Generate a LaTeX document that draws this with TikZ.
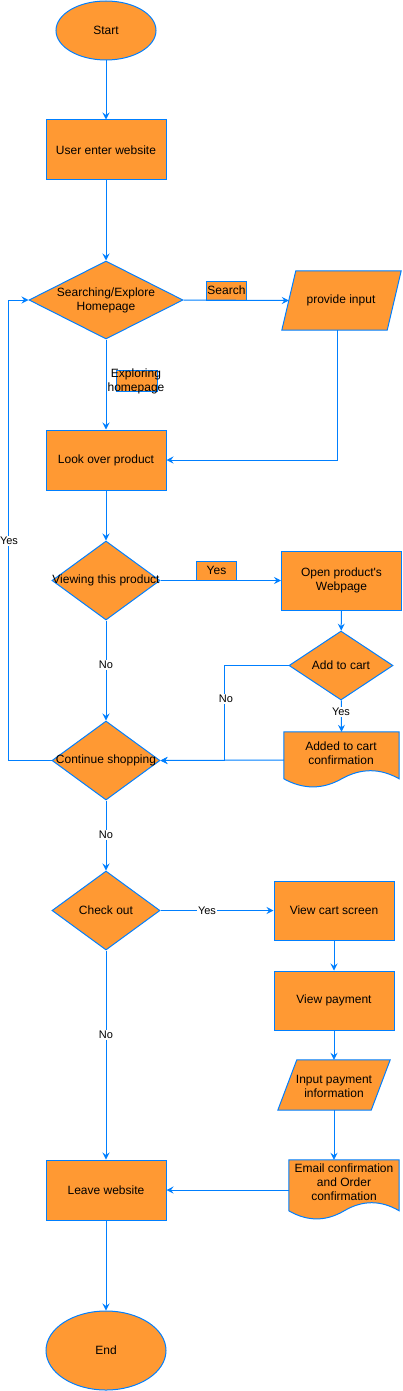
\documentclass[tikz,border=0pt]{standalone}
\usepackage{fontspec}
\setmainfont{Liberation Sans}
\usetikzlibrary{shapes.geometric,arrows.meta,backgrounds,calc}
\definecolor{fo}{HTML}{FF9933}
\definecolor{lb}{HTML}{007FFF}
\newcommand\docshape[3]{%
  \draw[shp] (#1.north west) -- (#1.north east) -- ([yshift={-(#3)+9}]#1.north east)
    .. controls ([xshift={-(#2)/6}, yshift={-(#3)+19.8}]#1.north east) and ([xshift={-(#2)/3},yshift={-(#3)+19.8}]#1.north east)
    .. ([xshift={-(#2)/2},yshift={-(#3)+9}]#1.north east)
    .. controls ([xshift={-(#2)*2/3},yshift={-(#3)-1.8}]#1.north east) and ([xshift={-(#2)*5/6},yshift={-(#3)-1.8}]#1.north east)
    .. ([yshift={-(#3)+9}]#1.north west) -- cycle;}
\begin{document}
\begin{tikzpicture}[x=1pt,y=-1pt,
  shp/.style={draw=lb,fill=fo,line width=1pt},
  box/.style={shp,minimum width=120pt,minimum height=60pt,inner sep=0pt,font=\fontsize{12}{14}\selectfont,align=center},
  dec/.style={diamond,shp,inner sep=0pt},
  term/.style={ellipse,shp,inner sep=0pt,font=\fontsize{12}{14}\selectfont},
  ghost/.style={inner sep=0pt,draw=none},
  txt/.style={inner sep=0pt,font=\fontsize{12}{14}\selectfont,align=center},
  tag/.style={shp,minimum width=40pt,minimum height=19pt,inner sep=0pt,font=\fontsize{12}{14}\selectfont},
  arr/.style={draw=lb,line width=1pt,-{Stealth[length=7pt,width=7pt,inset=2.5pt]}},
  elab/.style={fill=white,inner sep=1pt,font=\fontsize{11}{13}\selectfont}]
\useasboundingbox (0,0) rectangle (402,1391);
% nodes
\node[term,minimum width=100pt,minimum height=59pt] (start) at (106,30.5) {Start};
\node[box] (enter) at (106,150) {User enter website};
\node[dec,minimum width=154pt,minimum height=78pt,label={[txt]center:{Searching/Explore\\Homepage}}] (search) at (106,300) {};
\node[tag] (searchtag) at (226.5,290.5) {Search};
\node[ghost,minimum width=119pt,minimum height=59pt] (input) at (341.5,300.5) {};
\node[box,minimum height=60pt] (look) at (106,460) {Look over product};
\node[dec,minimum width=108pt,minimum height=79pt,label={[txt]center:{Viewing this product}}] (view) at (106,580.5) {};
\node[tag] (yestag) at (216.5,570.5) {Yes};
\node[box,minimum height=59pt] (open) at (341.5,580.5) {Open product\textquotesingle s\\Webpage};
\node[dec,minimum width=104pt,minimum height=69pt,label={[txt]center:{Add to cart}}] (cart) at (341,665.5) {};
\node[ghost,minimum width=115pt,minimum height=56pt] (added) at (341.5,760) {};
\node[dec,minimum width=108pt,minimum height=79pt,label={[txt]center:{Continue shopping}}] (cont) at (106,760.5) {};
\node[dec,minimum width=108pt,minimum height=79pt,label={[txt]center:{Check out}}] (check) at (106,910.5) {};
\node[box,minimum height=59pt] (vcart) at (334,910.5) {View cart screen};
\node[box,minimum height=59pt] (vpay) at (334,1000.5) {View payment};
\node[ghost,minimum width=112pt,minimum height=50pt] (inpay) at (334,1085) {};
\node[ghost,minimum width=110pt,minimum height=60pt] (email) at (344,1190) {};
\node[box] (leave) at (106,1190) {Leave website};
\node[term,minimum width=120pt,minimum height=79pt] (end) at (106,1350.5) {End};
\node[tag,minimum width=41pt,minimum height=21pt] (expbox) at (136.5,381) {};
% background shapes
\begin{scope}[on background layer]
\draw[shp] (input.south west) -- ([xshift=14pt]input.north west) -- (input.north east) -- ([xshift=-14pt]input.south east) -- cycle;
\draw[shp] (inpay.south west) -- ([xshift=19pt]inpay.north west) -- (inpay.north east) -- ([xshift=-19pt]inpay.south east) -- cycle;
\docshape{added}{115}{56}
\docshape{email}{110}{60}
\end{scope}
% texts of custom shapes
\node[txt] (inputtxt) at (341,300) {provide input};
\node[txt] (addedtxt) at (341,753) {Added to cart\\confirmation};
\node[txt] (inpaytxt) at (334,1086) {Input payment\\information};
\node[txt] (emailtxt) at (344,1182) {Email confirmation\\and Order\\confirmation};
\node[txt] (exptxt) at (136,381) {Exploring\\homepage};
% connectors
\draw[arr] (start) -- (enter);
\draw[arr] (enter) -- (search);
\draw[arr] (search.east) -- ([xshift=7pt]input.west);
\draw[arr] (search) -- (look);
\draw[arr] ([xshift=-4.5pt]input.south) |- (look.east);
\draw[arr] (cont.west) -- ++(-43,0) |- (search.west);
\draw[arr] (look) -- (view);
\draw[arr] (view.east) -- (open.west);
\draw[arr] (view) -- (cont);
\draw[arr] (open) -- (cart);
\draw[arr] (cart) -- (added.north);
\draw[arr] (cart.west) -- ++(-64,0) |- (cont.east);
\draw[arr] (added.west) -- (cont.east);
\draw[arr] (cont) -- (check);
\draw[arr] (check.east) -- (vcart.west);
\draw[arr] (vcart) -- (vpay);
\draw[arr] (vpay.south) -- (inpay.north);
\draw[arr] (inpay.south) -- (inpay.south |- email.north);
\draw[arr] (email.west) -- (leave.east);
\draw[arr] (check) -- (leave);
\draw[arr] (leave) -- (end);
% connector labels
\node[elab] (l1) at (9,541) {Yes};
\node[elab] (l2) at (106,665) {No};
\node[elab] (l3) at (226,699) {No};
\node[elab] (l4) at (341,712) {Yes};
\node[elab] (l5) at (106,835) {No};
\node[elab] (l6) at (207,911) {Yes};
\node[elab] (l7) at (106,1035) {No};
\end{tikzpicture}
\end{document}
